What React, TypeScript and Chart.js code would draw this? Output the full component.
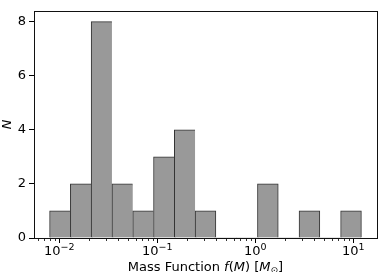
import { useEffect, useRef } from 'react';
import { Chart, registerables } from 'chart.js';

Chart.register(...registerables);

// Histogram bin edges (M_sun)
const binEdges = [0.00797, 0.01298, 0.02116, 0.03448, 0.0562, 0.09158, 0.1493, 0.2432, 0.3964, 0.6459, 1.0527, 1.7155, 2.796, 4.556, 7.425, 12.1];
// Counts per bin
const counts = [1, 2, 8, 2, 1, 3, 4, 1, 0, 0, 2, 0, 1, 0, 1];
// Tick values / labels
const yTicks = [0, 2, 4, 6, 8];
const xMajorTicks = [0.01, 0.1, 1, 10];
const xTickBase = '10';
const xTickExponents = ['−2', '−1', '0', '1'];
const yTitle = 'N';
const xTitleParts: { t: string; k: 'n' | 'i' | 's' }[] = [
  { t: 'Mass Function ', k: 'n' },
  { t: 'f', k: 'i' },
  { t: '(', k: 'n' },
  { t: 'M', k: 'i' },
  { t: ') [', k: 'n' },
  { t: 'M', k: 'i' },
  { t: '⊙', k: 's' },
  { t: ']', k: 'n' },
];

const FONT = 'DejaVu Sans';
const FS = 13;
const FS_SUP = 9.5;

export default function App() {
  const ref = useRef<HTMLCanvasElement | null>(null);

  useEffect(() => {
    document.body.style.margin = '0';
    const canvas = ref.current;
    if (!canvas) return;

    const centers = counts.map((_, i) => Math.sqrt(binEdges[i] * binEdges[i + 1]));
    const lo = Math.log10(binEdges[0]);
    const hi = Math.log10(binEdges[binEdges.length - 1]);
    const m = 0.05 * (hi - lo);
    const xMin = Math.pow(10, lo - m);
    const xMax = Math.pow(10, hi + m);
    const yMax = Math.max(...counts) * 1.05;

    const boxPlugin = {
      id: 'boxAndExtras',
      afterDatasetsDraw(chart: any) {
        const { ctx, chartArea } = chart;
        const xs = chart.scales.x;
        ctx.save();
        // minor ticks on log axis
        ctx.strokeStyle = '#000';
        ctx.lineWidth = 0.8;
        for (let d = -3; d <= 1; d++) {
          for (let k = 2; k <= 9; k++) {
            const v = k * Math.pow(10, d);
            if (v <= xMin || v >= xMax) continue;
            const px = Math.round(xs.getPixelForValue(v)) + 0.5;
            ctx.beginPath();
            ctx.moveTo(px, chartArea.bottom);
            ctx.lineTo(px, chartArea.bottom + 3);
            ctx.stroke();
          }
        }
        // frame
        ctx.strokeStyle = '#111';
        ctx.lineWidth = 1;
        const l = Math.round(chartArea.left) + 0.5;
        const r = Math.round(chartArea.right) + 0.5;
        const t = Math.round(chartArea.top) + 0.5;
        const b = Math.round(chartArea.bottom) + 0.5;
        ctx.strokeRect(l, t, r - l, b - t);

        ctx.fillStyle = '#000';
        ctx.textBaseline = 'alphabetic';
        ctx.textAlign = 'left';
        // x tick labels 10^n with superscripts
        const mainFont = `${FS}px "${FONT}"`;
        const supFont = `${FS_SUP}px "${FONT}"`;
        xMajorTicks.forEach((v, i) => {
          const px = xs.getPixelForValue(v);
          ctx.font = mainFont;
          const w1 = ctx.measureText(xTickBase).width;
          ctx.font = supFont;
          const w2 = ctx.measureText(xTickExponents[i]).width;
          const x0 = px - (w1 + w2) / 2;
          const baseY = chartArea.bottom + 16.5;
          ctx.font = mainFont;
          ctx.fillText(xTickBase, x0, baseY);
          ctx.font = supFont;
          ctx.fillText(xTickExponents[i], x0 + w1, baseY - 5);
        });

        // x title with mixed styles
        const fonts: Record<string, string> = {
          n: `${FS}px "${FONT}"`,
          i: `italic ${FS}px "${FONT}"`,
          s: `${FS * 0.7}px "${FONT}"`,
        };
        let total = 0;
        for (const p of xTitleParts) {
          ctx.font = fonts[p.k];
          total += ctx.measureText(p.t).width;
        }
        let x = (chartArea.left + chartArea.right) / 2 - total / 2;
        const base = chartArea.bottom + 32.8;
        for (const p of xTitleParts) {
          ctx.font = fonts[p.k];
          ctx.fillText(p.t, x, p.k === 's' ? base + 2.5 : base);
          x += ctx.measureText(p.t).width;
        }
        ctx.restore();
      },
    };

    const chart = new Chart(canvas, {
      type: 'bar',
      data: {
        datasets: [
          {
            data: centers.map((c, i) => ({ x: c, y: counts[i] })),
            backgroundColor: '#999999',
            borderColor: '#333333',
            borderWidth: (ctx: any) => {
              const i = ctx.dataIndex;
              if (!counts[i]) return 0;
              const nextZero = i === counts.length - 1 || !counts[i + 1];
              return { top: 1, left: 1, bottom: 0, right: nextZero ? 1 : 0 };
            },
            borderSkipped: false,
            barThickness: 'flex',
            barPercentage: 1,
            categoryPercentage: 1,
          } as any,
        ],
      },
      options: {
        animation: false,
        responsive: false,
        devicePixelRatio: 1,
        layout: { padding: { top: 4, right: 5, left: 0, bottom: 0 } },
        plugins: { legend: { display: false }, tooltip: { enabled: false } },
        scales: {
          x: {
            type: 'logarithmic',
            min: xMin,
            max: xMax,
            offset: false,
            afterBuildTicks: (s: any) => {
              s.ticks = xMajorTicks.map((v) => ({ value: v, major: true }));
            },
            afterFit: (s: any) => {
              s.height = 34;
            },
            grid: {
              display: true,
              drawOnChartArea: false,
              offset: false,
              tickLength: 5,
              tickColor: '#000',
              tickWidth: 1,
            },
            border: { display: false },
            ticks: {
              display: false,
              autoSkip: false,
              maxRotation: 0,
            },
          },
          y: {
            type: 'linear',
            min: 0,
            max: yMax,
            afterBuildTicks: (s: any) => {
              s.ticks = yTicks.map((v) => ({ value: v }));
            },
            afterFit: (s: any) => {
              s.width = 34;
            },
            grid: {
              display: true,
              drawOnChartArea: false,
              tickLength: 5,
              tickColor: '#000',
              tickWidth: 1,
            },
            border: { display: false },
            title: {
              display: true,
              text: yTitle,
              color: '#000',
              font: { family: FONT, size: FS, style: 'italic' },
              padding: { top: 0, bottom: 0 },
            },
            ticks: {
              padding: 3,
              color: '#000',
              font: { family: FONT, size: FS },
            },
          },
        },
      },
      plugins: [boxPlugin],
    });

    return () => chart.destroy();
  }, []);

  return <canvas ref={ref} width={382} height={272} style={{ display: 'block' }} />;
}
